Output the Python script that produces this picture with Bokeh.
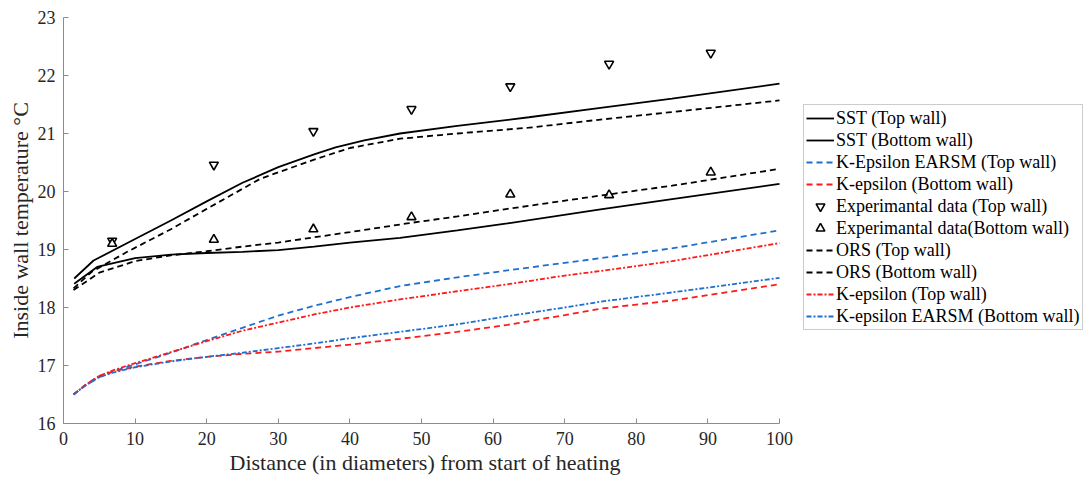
from bokeh.plotting import figure
from bokeh.models import Legend, LegendItem, FixedTicker, Title
from bokeh.embed import file_html
from bokeh.resources import INLINE

# ---- data ----
sst_top_x = [1.5, 4.2, 10, 15, 20, 25, 30, 35, 38, 42, 47, 55, 65, 75, 85, 100]
sst_top_y = [18.5, 18.81, 19.18, 19.5, 19.83, 20.15, 20.42, 20.64, 20.76, 20.88, 21.0, 21.13, 21.28, 21.44, 21.6, 21.86]

sst_bot_x = [1.5, 4.7, 10, 15, 20, 25, 30, 35, 40, 47, 55, 62, 75, 85, 100]
sst_bot_y = [18.41, 18.7, 18.85, 18.91, 18.94, 18.96, 18.99, 19.05, 19.12, 19.2, 19.33, 19.45, 19.69, 19.87, 20.13]

ors_top_x = [1.4, 4, 8.9, 15, 20, 27.5, 35, 40, 47, 55, 65, 75, 85, 100]
ors_top_y = [18.33, 18.62, 18.96, 19.35, 19.7, 20.22, 20.55, 20.75, 20.91, 21.0, 21.1, 21.24, 21.37, 21.57]

ors_bot_x = [1.4, 5, 10, 15, 20, 25, 30, 35, 40, 48, 55, 62, 75, 85, 100]
ors_bot_y = [18.3, 18.6, 18.8, 18.9, 18.97, 19.05, 19.12, 19.21, 19.3, 19.45, 19.57, 19.7, 19.93, 20.1, 20.39]

ke_x = [1.4, 3, 5, 7, 10, 15, 20, 25, 30, 35, 40, 47, 55, 62, 70, 75, 85, 100]
earsm_top_y = [16.5, 16.65, 16.8, 16.9, 17.02, 17.22, 17.44, 17.65, 17.86, 18.03, 18.18, 18.37, 18.52, 18.64, 18.77, 18.85, 19.02, 19.33]
keps_top_y = [16.5, 16.66, 16.82, 16.92, 17.04, 17.23, 17.42, 17.6, 17.74, 17.88, 18.0, 18.14, 18.28, 18.4, 18.55, 18.63, 18.8, 19.11]
earsm_bot_y = [16.5, 16.65, 16.8, 16.88, 16.97, 17.07, 17.15, 17.22, 17.3, 17.38, 17.47, 17.58, 17.71, 17.85, 18.0, 18.1, 18.26, 18.51]
keps_bot_y = [16.5, 16.66, 16.82, 16.9, 16.98, 17.08, 17.15, 17.2, 17.24, 17.3, 17.36, 17.46, 17.58, 17.7, 17.87, 17.98, 18.12, 18.40]

exp_x = [6.8, 21.0, 34.9, 48.6, 62.4, 76.2, 90.4]
exp_top_y = [19.15, 20.46, 21.04, 21.42, 21.81, 22.2, 22.39]
exp_bot_y = [19.1, 19.17, 19.35, 19.56, 19.95, 19.94, 20.33]

x_ticks = [0, 10, 20, 30, 40, 50, 60, 70, 80, 90, 100]
y_ticks = [16, 17, 18, 19, 20, 21, 22, 23]

BLUE = "#1f6fcf"
RED = "#ff1a1a"
FONT = "Liberation Serif"

# frame spans the whole width to the right so the legend fits inside it;
# the x axis itself is bounded to 0..100
X_END = 1021 / 7.16

p = figure(width=1084, height=480, x_range=(0, X_END), y_range=(16, 23),
           output_backend="svg", toolbar_location=None,
           min_border_left=63, min_border_right=0, min_border_top=17, min_border_bottom=57)
p.outline_line_color = None
p.grid.visible = False

r_sst_t = p.line(sst_top_x, sst_top_y, line_color="black", line_width=1.8)
r_sst_b = p.line(sst_bot_x, sst_bot_y, line_color="black", line_width=1.8)
r_ea_t = p.line(ke_x, earsm_top_y, line_color=BLUE, line_width=1.8, line_dash="6 4")
r_ke_b = p.line(ke_x, keps_bot_y, line_color=RED, line_width=1.8, line_dash="6 4")
r_exp_t = p.scatter(exp_x, exp_top_y, marker="inverted_triangle", size=9,
                    line_color="black", fill_color="white", line_width=1.6)
r_exp_b = p.scatter(exp_x, exp_bot_y, marker="triangle", size=9,
                    line_color="black", fill_color="white", line_width=1.6)
r_ors_t = p.line(ors_top_x, ors_top_y, line_color="black", line_width=1.8, line_dash="6 4")
r_ors_b = p.line(ors_bot_x, ors_bot_y, line_color="black", line_width=1.8, line_dash="6 4")
r_ke_t = p.line(ke_x, keps_top_y, line_color=RED, line_width=1.8, line_dash="5 2 2 2")
r_ea_b = p.line(ke_x, earsm_bot_y, line_color=BLUE, line_width=1.8, line_dash="5 2 2 2")

items = [
    LegendItem(label="SST (Top wall)", renderers=[r_sst_t]),
    LegendItem(label="SST (Bottom wall)", renderers=[r_sst_b]),
    LegendItem(label="K-Epsilon EARSM (Top wall)", renderers=[r_ea_t]),
    LegendItem(label="K-epsilon (Bottom wall)", renderers=[r_ke_b]),
    LegendItem(label="Experimantal data (Top wall)", renderers=[r_exp_t]),
    LegendItem(label="Experimantal data(Bottom wall)", renderers=[r_exp_b]),
    LegendItem(label="ORS (Top wall)", renderers=[r_ors_t]),
    LegendItem(label="ORS (Bottom wall)", renderers=[r_ors_b]),
    LegendItem(label="K-epsilon (Top wall)", renderers=[r_ke_t]),
    LegendItem(label="K-epsilon EARSM (Bottom wall)", renderers=[r_ea_b]),
]
legend = Legend(items=items, location=(740, 93), margin=0, padding=2, spacing=0,
                glyph_width=28, glyph_height=22, label_height=22, label_standoff=2,
                label_text_font=FONT, label_text_font_size="18px", label_text_color="black",
                label_text_baseline="middle",
                border_line_color="#999999", border_line_width=1, background_fill_alpha=1)
p.add_layout(legend, "center")

for ax in (p.xaxis[0], p.yaxis[0]):
    ax.axis_line_color = "#8c8c8c"
    ax.major_tick_line_color = "#8c8c8c"
    ax.major_tick_in = 5
    ax.major_tick_out = 0
    ax.minor_tick_line_color = None
    ax.major_label_text_font = FONT
    ax.major_label_text_font_size = "18px"
    ax.major_label_text_color = "#262626"
    ax.axis_label_text_font = FONT
    ax.axis_label_text_font_size = "22px"
    ax.axis_label_text_font_style = "normal"
    ax.axis_label_text_color = "#262626"
    ax.major_label_standoff = 8

p.xaxis[0].bounds = (0, 100)
p.xaxis[0].ticker = FixedTicker(ticks=x_ticks)
p.yaxis[0].ticker = FixedTicker(ticks=y_ticks)
p.yaxis[0].axis_label = "Inside wall temperature °C"
p.yaxis[0].axis_label_standoff = 2

# x-axis title centred under the 0..100 axis (not under the whole frame)
xlabel = Title(text="Distance (in diameters) from start of heating", align="left",
               offset=166, text_font=FONT, text_font_size="22px",
               text_font_style="normal", text_color="#262626", standoff=0)
p.add_layout(xlabel, "below")

open("out.html", "w").write(file_html(p, INLINE))
